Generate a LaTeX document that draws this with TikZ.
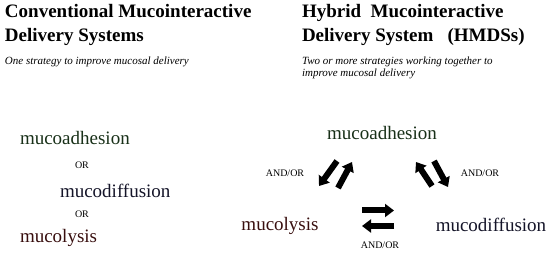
\documentclass[tikz,border=0pt]{standalone}
\usepackage{fontspec}
\setmainfont{Liberation Serif}
\usetikzlibrary{arrows.meta}
\definecolor{adhcolor}{RGB}{24,48,24}
\definecolor{difcolor}{RGB}{20,20,40}
\definecolor{lyscolor}{RGB}{56,14,14}
\begin{document}
\begin{tikzpicture}
[x=1pt,y=-1pt,every node/.style={inner sep=0pt,outer sep=0pt},title/.style={anchor=base west,font=\fontsize{19}{24}\selectfont\bfseries},sub/.style={anchor=base west,font=\fontsize{11}{12}\selectfont\itshape},term/.style={font=\fontsize{19}{22}\selectfont},conj/.style={anchor=base,font=\fontsize{10}{12}\selectfont},bigarrow/.style={line width=6pt,-{Triangle[width=13pt,length=9pt]}}]
\useasboundingbox (0,0) rectangle (550,254);
% left column
\node[title] (t1a) at (5,18) {Conventional Mucointeractive};
\node[title] (t1b) at (5,42) {Delivery Systems};
\node[sub] (s1) at (5,65) {One strategy to improve mucosal delivery};
\node[term,anchor=base west,text=adhcolor] (ladh) at (20,145) {mucoadhesion};
\node[conj,anchor=base west] (lor1) at (75,168) {OR};
\node[term,anchor=base west,text=difcolor] (ldif) at (60,197) {mucodiffusion};
\node[conj,anchor=base west] (lor2) at (75,218) {OR};
\node[term,anchor=base west,text=lyscolor] (llys) at (20,243) {mucolysis};
% right column
\node[title] (t2a) at (302,18) {Hybrid\ \ Mucointeractive};
\node[title] (t2b) at (302,42) {Delivery System\ \ \ (HMDSs)};
\node[sub] (s2a) at (302,65) {Two or more strategies working together to};
\node[sub] (s2b) at (302,77) {improve mucosal delivery};
\node[term,anchor=base,text=adhcolor] (radh) at (382,140) {mucoadhesion};
\node[term,anchor=base,text=lyscolor] (rlys) at (280,230) {mucolysis};
\node[term,anchor=base,text=difcolor] (rdif) at (491,232) {mucodiffusion};
\node[conj] (andl) at (285,176) {AND/OR};
\node[conj] (andr) at (480,176) {AND/OR};
\node[conj] (andb) at (380,248) {AND/OR};
% arrow ends
\coordinate (la1) at (337,161); \coordinate (lb1) at (319,186);
\coordinate (la2) at (338,188); \coordinate (lb2) at (352,162);
\coordinate (ra1) at (432,186); \coordinate (rb1) at (416,162);
\coordinate (ra2) at (434,161); \coordinate (rb2) at (448,187);
\coordinate (ba1) at (362,210.5); \coordinate (bb1) at (394,210.5);
\coordinate (ba2) at (394,226); \coordinate (bb2) at (362,226);
\foreach \s/\e in {la1/lb1,la2/lb2,ra1/rb1,ra2/rb2,ba1/bb1,ba2/bb2}
	\draw[bigarrow] (\s) -- (\e);
\end{tikzpicture}
\end{document}
